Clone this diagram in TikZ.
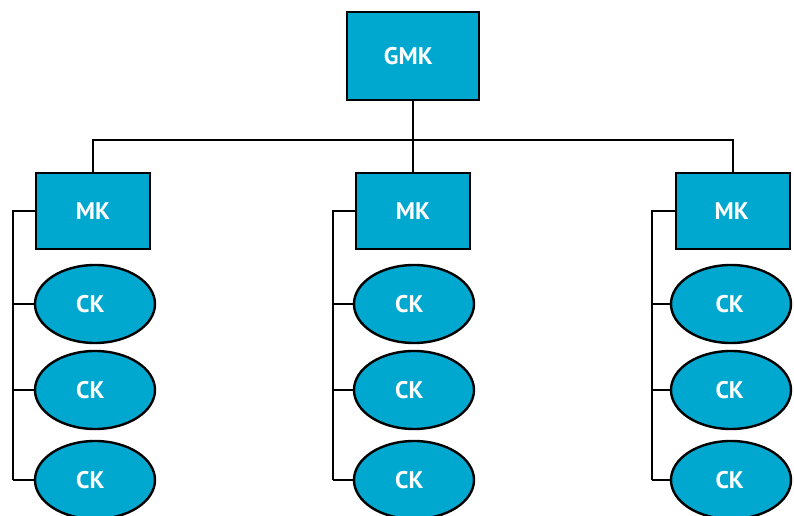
\documentclass[tikz,border=0pt]{standalone}
\usepackage{fontspec}
\setmainfont{PT Sans}
\usetikzlibrary{shapes.geometric}
\definecolor{box_blue}{RGB}{0,168,208}

\begin{document}
\begin{tikzpicture}[x=0.75pt,y=-0.75pt,line width=1.8pt]
    \tikzstyle{head}=[draw=black, rectangle, minimum width=99pt, minimum height=66pt, fill=box_blue, text=white, font=\fontsize{18}{21}\selectfont\bfseries]
    \tikzstyle{mgr}=[draw=black, rectangle, minimum width=85.5pt, minimum height=57pt, fill=box_blue, text=white, font=\fontsize{18}{21}\selectfont\bfseries]
    \tikzstyle{unit}=[draw=black, ellipse, inner sep=0pt, minimum width=90pt, minimum height=58.5pt, fill=box_blue, text=white, font=\fontsize{18}{21}\selectfont\bfseries]
    \useasboundingbox (0,0) rectangle (794,516);

    \node[head] (gmk) at (413,56) {GMK\kern7pt};

    \node[mgr] (mk1) at (93,211)  {MK};
    \node[mgr] (mk2) at (413,211) {MK};
    \node[mgr] (mk3) at (733,211) {MK\kern2pt};

    \node[unit] (ck11) at (95,304)  {CK\kern7pt};
    \node[unit] (ck12) at (95,390)  {CK\kern7pt};
    \node[unit] (ck13) at (95,480)  {CK\kern7pt};
    \node[unit] (ck21) at (414,304) {CK\kern7pt};
    \node[unit] (ck22) at (414,390) {CK\kern7pt};
    \node[unit] (ck23) at (414,480) {CK\kern7pt};
    \node[unit] (ck31) at (731,304) {CK\kern2pt};
    \node[unit] (ck32) at (731,390) {CK\kern2pt};
    \node[unit] (ck33) at (731,480) {CK\kern2pt};

    \coordinate (bus) at (413,140);
    \coordinate (s1) at (13,211);
    \coordinate (s2) at (333,211);
    \coordinate (s3) at (652,211);

    % top level
    \draw (gmk) -- (mk2);
    \draw (mk1.north) -- (mk1.north |- bus) -- (mk3.north |- bus) -- (mk3.north);

    % spines
    \draw (mk1.west) -- (s1) -- (s1 |- ck13);
    \draw (mk2.west) -- (s2) -- (s2 |- ck23);
    \draw (mk3.west) -- (s3) -- (s3 |- ck33);
    \path
     (s1 |- ck11) edge (ck11.west)
     (s1 |- ck12) edge (ck12.west)
     (s1 |- ck13) edge (ck13.west)
     (s2 |- ck21) edge (ck21.west)
     (s2 |- ck22) edge (ck22.west)
     (s2 |- ck23) edge (ck23.west)
     (s3 |- ck31) edge (ck31.west)
     (s3 |- ck32) edge (ck32.west)
     (s3 |- ck33) edge (ck33.west)
     ;
\end{tikzpicture}
\end{document}
